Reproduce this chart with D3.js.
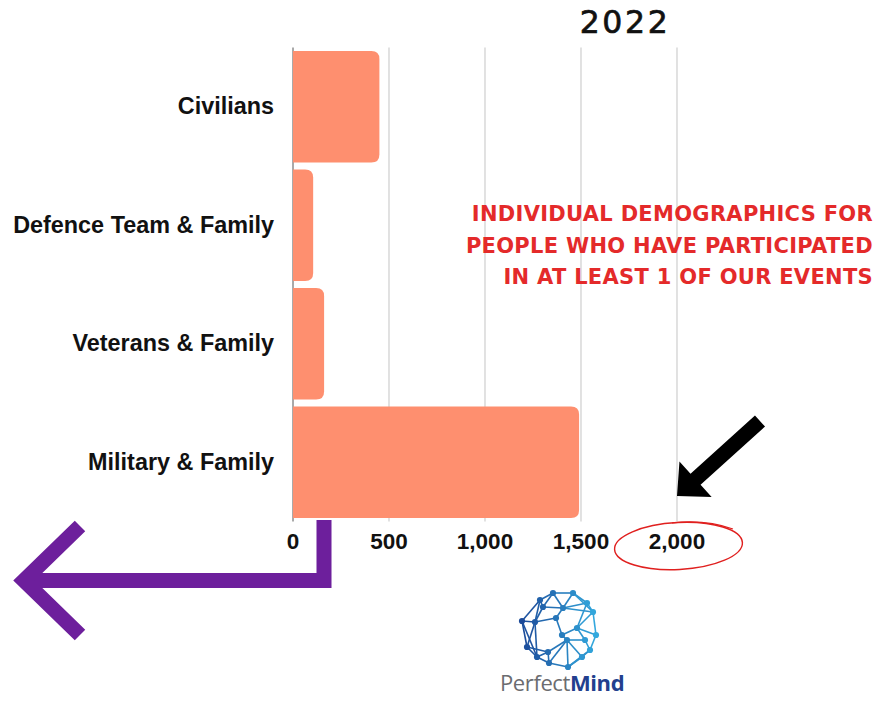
<!DOCTYPE html>
<html>
<head>
<meta charset="utf-8">
<script src="https://cdn.jsdelivr.net/npm/d3@7"></script>
<style>
  html, body { margin: 0; padding: 0; background: #ffffff; }
  svg { display: block; }
</style>
</head>
<body>
<script>
// ---- chart data ----
const categories = ["Civilians", "Defence Team & Family", "Veterans & Family", "Military & Family"];
const participants = [450, 105, 162, 1490];
const tickValues = [0, 500, 1000, 1500, 2000];
const yearTitle = "2022";
const noteLines = [
  "INDIVIDUAL DEMOGRAPHICS FOR",
  "PEOPLE WHO HAVE PARTICIPATED",
  "IN AT LEAST 1 OF OUR EVENTS"
];

// ---- logo artwork (local coordinates inside the logo box) ----
const logoNodes = [
  [50, 30], [63, 23], [83, 23], [97, 33], [103, 42], [106, 65], [100, 80], [92, 87],
  [78, 97], [59, 93], [47, 87], [37, 77], [32, 51], [45, 52], [73, 38], [72, 65],
  [87, 58], [77, 70], [58, 82], [53, 37], [95, 70], [66, 48]
];
const logoEdges = [
  [0,1],[1,2],[2,3],[3,4],[4,5],[5,6],[6,7],[7,8],[8,9],[9,10],[10,11],[11,12],[12,0],
  [0,13],[12,13],[13,11],[13,10],[0,19],[1,14],[2,14],[14,3],[14,4],[19,14],[19,13],
  [14,21],[21,13],[15,17],[15,16],[16,4],[16,5],[16,20],[20,6],[17,20],[17,7],[17,8],
  [18,9],[18,10],[18,17],[18,11],[15,21],[2,4],[3,16],[6,8],[10,12],[9,17],[1,19]
];

const W = 889, H = 702;
const svg = d3.select("body").append("svg")
  .attr("width", W).attr("height", H)
  .style("font-family", "'Liberation Sans', Arial, sans-serif");

const x = d3.scaleLinear().domain([0, 2000]).range([293, 677]);
const y = d3.scaleBand().domain(categories).range([47.5, 521.5])
  .paddingInner(0.06).paddingOuter(0.03);

// vertical gridlines
svg.append("g").selectAll("line")
  .data(tickValues.filter(d => d > 0))
  .join("line")
  .attr("x1", d => x(d)).attr("x2", d => x(d))
  .attr("y1", y.range()[0]).attr("y2", y.range()[1])
  .attr("stroke", "#d2d2d2").attr("stroke-width", 1.3);

// baseline
svg.append("line")
  .attr("x1", x(0)).attr("x2", x(0))
  .attr("y1", y.range()[0]).attr("y2", y.range()[1])
  .attr("stroke", "#555").attr("stroke-width", 1);

// bars: square on the baseline, rounded at the value end
function barPath(x0, x1, y0, h, r) {
  const rr = Math.min(r, (x1 - x0), h / 2);
  return `M${x0},${y0}H${x1 - rr}Q${x1},${y0} ${x1},${y0 + rr}` +
         `V${y0 + h - rr}Q${x1},${y0 + h} ${x1 - rr},${y0 + h}H${x0}Z`;
}
svg.append("g").selectAll("path")
  .data(categories.map((c, i) => ({ c, v: participants[i] })))
  .join("path")
  .attr("d", d => barPath(x(0), x(d.v), y(d.c), y.bandwidth(), 8))
  .attr("fill", "#fe8f6f");

// category axis labels
svg.append("g").selectAll("text")
  .data(categories)
  .join("text")
  .attr("x", 274)
  .attr("y", d => y(d) + y.bandwidth() / 2 + 7.5)
  .attr("text-anchor", "end")
  .attr("font-size", 23.4).attr("font-weight", "bold").attr("fill", "#111")
  .text(d => d);

// value axis tick labels
const fmt = d3.format(",");
svg.append("g").selectAll("text")
  .data(tickValues)
  .join("text")
  .attr("x", d => x(d))
  .attr("y", 549)
  .attr("text-anchor", "middle")
  .attr("font-size", 22.5).attr("font-weight", "bold").attr("fill", "#111")
  .text(d => fmt(d));

// year heading
svg.append("text")
  .attr("x", 625).attr("y", 33)
  .attr("text-anchor", "middle")
  .attr("font-family", "'DejaVu Sans', sans-serif")
  .attr("font-size", 31.5).attr("letter-spacing", 2.6).attr("fill", "#111")
  .attr("stroke", "#111").attr("stroke-width", 0.7)
  .text(yearTitle);

// red note
svg.append("g").selectAll("text")
  .data(noteLines)
  .join("text")
  .attr("x", 873)
  .attr("y", (d, i) => 221 + i * 31.5)
  .attr("text-anchor", "end")
  .attr("font-family", "'DejaVu Sans', sans-serif")
  .attr("font-weight", "bold")
  .attr("font-size", 21).attr("letter-spacing", 0.3)
  .attr("fill", "#e42a2a")
  .text(d => d);

// black pointer arrow toward the 2,000 tick
(function () {
  const tip = [677, 496], tail = [760, 421];
  const dx = tail[0] - tip[0], dy = tail[1] - tip[1];
  const len = Math.hypot(dx, dy);
  const ux = dx / len, uy = dy / len, px = -uy, py = ux;
  const headLen = 25, headHalf = 24, shaftHalf = 7.5;
  const b = [tip[0] + ux * headLen, tip[1] + uy * headLen];
  const pts = [
    tip,
    [b[0] + px * headHalf, b[1] + py * headHalf],
    [b[0] + px * shaftHalf, b[1] + py * shaftHalf],
    [tail[0] + px * shaftHalf, tail[1] + py * shaftHalf],
    [tail[0] - px * shaftHalf, tail[1] - py * shaftHalf],
    [b[0] - px * shaftHalf, b[1] - py * shaftHalf],
    [b[0] - px * headHalf, b[1] - py * headHalf]
  ];
  svg.append("polygon").attr("points", pts.map(p => p.join(",")).join(" ")).attr("fill", "#000");
})();

// hand-drawn red loop around 2,000
svg.append("ellipse")
  .attr("cx", 678.5).attr("cy", 546).attr("rx", 64).attr("ry", 23.5)
  .attr("transform", "rotate(-3 678.5 546)")
  .attr("fill", "none").attr("stroke", "#e0201f").attr("stroke-width", 1.4);
svg.append("path")
  .attr("d", "M672,523 Q705,519 733,529")
  .attr("fill", "none").attr("stroke", "#e0201f").attr("stroke-width", 1.1);

// purple return arrow
svg.append("polyline")
  .attr("points", "324,520 324,580.5 22,580.5")
  .attr("fill", "none").attr("stroke", "#6d1f9c").attr("stroke-width", 15)
  .attr("stroke-linejoin", "miter");
svg.append("polyline")
  .attr("points", "80,526 24,580.5 80,635")
  .attr("fill", "none").attr("stroke", "#6d1f9c").attr("stroke-width", 15)
  .attr("stroke-linejoin", "miter").attr("stroke-miterlimit", 4);

// PerfectMind logo
const logo = svg.append("g").attr("transform", "translate(490,570)");
const logoColor = d3.scaleLinear().domain([30, 108]).range(["#1b4797", "#34ace0"]);
logo.append("g").selectAll("line")
  .data(logoEdges)
  .join("line")
  .attr("x1", d => logoNodes[d[0]][0]).attr("y1", d => logoNodes[d[0]][1])
  .attr("x2", d => logoNodes[d[1]][0]).attr("y2", d => logoNodes[d[1]][1])
  .attr("stroke", d => logoColor((logoNodes[d[0]][0] + logoNodes[d[1]][0]) / 2))
  .attr("stroke-width", 1.6);
logo.append("g").selectAll("circle")
  .data(logoNodes)
  .join("circle")
  .attr("cx", d => d[0]).attr("cy", d => d[1]).attr("r", 3.1)
  .attr("fill", d => logoColor(d[0]));
const wordmark = logo.append("text")
  .attr("x", 10).attr("y", 121)
  .attr("font-family", "'Open Sans', sans-serif")
  .attr("font-size", 22).attr("letter-spacing", -0.4);
wordmark.append("tspan").attr("fill", "#6b6c70").text("Perfect");
wordmark.append("tspan").attr("fill", "#233f8e").attr("font-weight", "bold").text("Mind");
</script>
</body>
</html>
